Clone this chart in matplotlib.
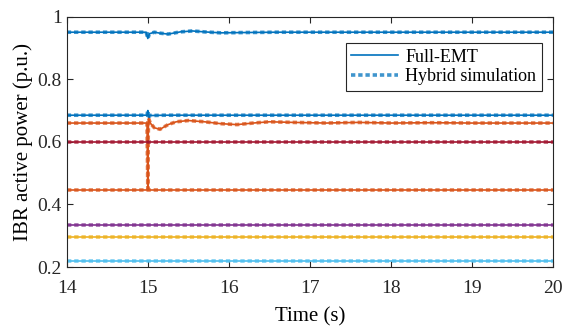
import numpy as np
import matplotlib.pyplot as plt

plt.rcParams['font.family'] = ['Liberation Serif', 'DejaVu Serif']

# time axis points (s) for the disturbed series
t_top = [14, 14.98, 15.0, 15.02, 15.08, 15.15, 15.25, 15.4, 15.55, 15.7, 15.9, 16.2, 16.6, 17.0, 18.0, 19.0, 20]
p_top = [0.95, 0.95, 0.93, 0.945, 0.95, 0.947, 0.944, 0.951, 0.954, 0.951, 0.948, 0.949, 0.95, 0.95, 0.95, 0.95, 0.95]

t_blue2 = [14, 14.99, 15.0, 15.01, 15.02, 15.05, 15.2, 20]
p_blue2 = [0.685, 0.685, 0.70, 0.675, 0.685, 0.684, 0.685, 0.685]

t_orange = [14, 14.99, 15.0, 15.005, 15.01, 15.03, 15.08, 15.15, 15.25, 15.35, 15.5, 15.7, 15.9, 16.1, 16.3, 16.5, 16.8, 17.2, 17.6, 18.0, 18.5, 19.0, 20]
p_orange = [0.66, 0.66, 0.45, 0.62, 0.675, 0.66, 0.645, 0.64, 0.655, 0.664, 0.668, 0.664, 0.658, 0.655, 0.66, 0.664, 0.662, 0.66, 0.662, 0.66, 0.661, 0.66, 0.66]

t_flat = [14, 20]
p_red = [0.6, 0.6]
p_orange2 = [0.445, 0.445]
p_purple = [0.335, 0.335]
p_yellow = [0.295, 0.295]
p_cyan = [0.218, 0.218]

blue = (0, 0.447, 0.741)
orange = (0.85, 0.325, 0.098)
yellow = (0.929, 0.694, 0.125)
purple = (0.494, 0.184, 0.556)
cyan = (0.301, 0.745, 0.933)
red = (0.635, 0.078, 0.184)

series = [
    (t_top, p_top, blue),
    (t_blue2, p_blue2, blue),
    (t_orange, p_orange, orange),
    (t_flat, p_red, red),
    (t_flat, p_orange2, orange),
    (t_flat, p_purple, purple),
    (t_flat, p_yellow, yellow),
    (t_flat, p_cyan, cyan),
]

fig = plt.figure(figsize=(5.66, 3.31), dpi=100)
ax = fig.add_axes([0.118, 0.193, 0.859, 0.757])

for i, (t, p, c) in enumerate(series):
    ax.plot(t, p, '-', color=c, lw=1.2, label='Full-EMT' if i == 0 else None)
    ax.plot(t, p, color=c, lw=2.6, alpha=0.75, dashes=(1.2, 0.8),
            label='Hybrid simulation' if i == 0 else None)

ax.set_xlim(14, 20)
ax.set_ylim(0.2, 1)
ax.set_xticks([14, 15, 16, 17, 18, 19, 20])
ax.set_yticks([0.2, 0.4, 0.6, 0.8, 1])
ax.set_yticklabels(['0.2', '0.4', '0.6', '0.8', '1'])
ax.tick_params(direction='in', top=True, right=True, labelsize=14, length=4, colors='#262626')
ax.tick_params(axis='x', pad=9)
for s in ax.spines.values():
    s.set_color('#262626')
    s.set_linewidth(0.8)
ax.set_xlabel('Time (s)', fontsize=15, labelpad=8)
ax.set_ylabel('IBR active power (p.u.)', fontsize=15, labelpad=3)
leg = ax.legend(loc='upper right', bbox_to_anchor=(0.995, 0.93), fontsize=13, fancybox=False,
                edgecolor='#262626', framealpha=1, handlelength=2.6, borderpad=0.3, labelspacing=0.15,
                handletextpad=0.4)
leg.get_frame().set_linewidth(0.8)

fig.savefig('out.png', dpi=100)
